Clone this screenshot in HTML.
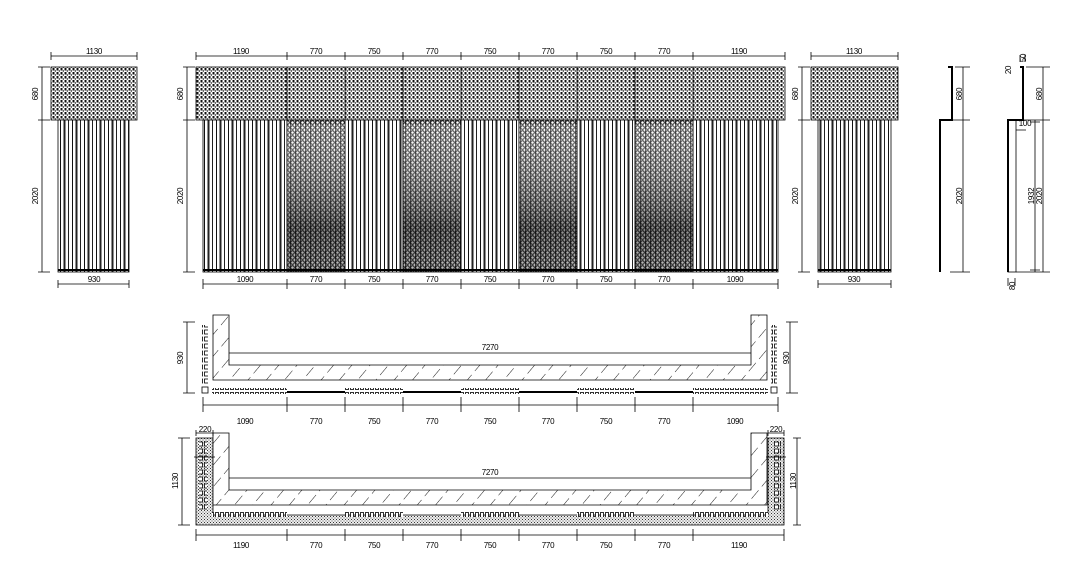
<!DOCTYPE html>
<html><head><meta charset="utf-8"><style>
html,body{margin:0;padding:0;background:#fff;}
svg{display:block}
text{font-family:"Liberation Sans",sans-serif;font-size:8px;fill:#000;letter-spacing:-0.3px}
</style></head><body>
<svg width="1080" height="568" viewBox="0 0 1080 568" xmlns="http://www.w3.org/2000/svg">
<defs>
<pattern id="dots" width="4" height="4" patternUnits="userSpaceOnUse">
<rect width="4" height="4" fill="#fff"/><rect x="0.5" y="0" width="2" height="2.5" fill="#111"/><rect x="2.8" y="2" width="1" height="2" fill="#444"/>
</pattern>
<pattern id="vl" width="12" height="10" patternUnits="userSpaceOnUse">
<rect width="12" height="10" fill="#fff"/><rect x="0" width="1" height="10" fill="#111"/><rect x="3.5" width="2" height="10" fill="#222"/><rect x="8" width="1" height="10" fill="#222"/>
</pattern>
<pattern id="dense" width="5" height="5" patternUnits="userSpaceOnUse">
<rect width="5" height="5" fill="#fff"/><circle cx="2.5" cy="2.5" r="1.8" fill="none" stroke="#111" stroke-width="1"/><rect x="0" width="0.8" height="5" fill="#222"/>
</pattern>
<linearGradient id="fade" x1="0" y1="0" x2="0" y2="1">
<stop offset="0" stop-color="#fff" stop-opacity="0.15"/><stop offset="0.7" stop-color="#000" stop-opacity="0.45"/><stop offset="1" stop-color="#000" stop-opacity="0.25"/>
</linearGradient>
<pattern id="hatch" width="14" height="16" patternUnits="userSpaceOnUse" patternTransform="rotate(40)">
<rect width="14" height="16" fill="#fff"/><line x1="0" y1="0" x2="0" y2="11" stroke="#000" stroke-width="0.9"/>
</pattern>
<pattern id="stip" width="3" height="3" patternUnits="userSpaceOnUse">
<rect width="3" height="3" fill="#eee"/><rect x="0" y="0" width="1" height="1" fill="#333"/><rect x="1.5" y="1.5" width="1" height="1" fill="#555"/>
</pattern>
<pattern id="sqv" width="6" height="7" patternUnits="userSpaceOnUse">
<rect x="0.5" y="1" width="4" height="4" fill="#fff" stroke="#000" stroke-width="0.8"/>
</pattern>
<pattern id="sqh" width="5" height="8" patternUnits="userSpaceOnUse">
<rect x="0.5" y="0.5" width="3" height="5" fill="#fff" stroke="#000" stroke-width="0.8"/>
</pattern>
</defs>

<g stroke="#000" stroke-width="0.8" fill="none">
<!-- LEFT ELEVATION -->
<rect x="51" y="67" width="86" height="53" fill="url(#dots)"/>
<rect x="58" y="120" width="71" height="152" fill="url(#vl)"/>
<line x1="58" y1="270" x2="129" y2="270" stroke-width="2"/>
<path d="M51 56H137M51 52V60M137 52V60M42 67V272M38 67H50M38 120H50M38 272H50M58 284H129M58 280V288M129 280V288"/>

<!-- MAIN ELEVATION -->
<rect x="196" y="67" width="589" height="53" fill="url(#dots)"/>
<path d="M287 67V120M345 67V120M403 67V120M461 67V120M519 67V120M577 67V120M635 67V120M693 67V120"/>
<rect x="203" y="120" width="84" height="152" fill="url(#vl)"/>
<rect x="345" y="120" width="58" height="152" fill="url(#vl)"/>
<rect x="461" y="120" width="58" height="152" fill="url(#vl)"/>
<rect x="577" y="120" width="58" height="152" fill="url(#vl)"/>
<rect x="693" y="120" width="85" height="152" fill="url(#vl)"/>
<rect x="287" y="120" width="58" height="152" fill="url(#dense)"/>
<rect x="403" y="120" width="58" height="152" fill="url(#dense)"/>
<rect x="519" y="120" width="58" height="152" fill="url(#dense)"/>
<rect x="635" y="120" width="58" height="152" fill="url(#dense)"/>
<g stroke="none" fill="url(#fade)">
<rect x="287" y="125" width="58" height="147"/><rect x="403" y="125" width="58" height="147"/><rect x="519" y="125" width="58" height="147"/><rect x="635" y="125" width="58" height="147"/>
</g>
<line x1="203" y1="270" x2="778" y2="270" stroke-width="2"/>
<path d="M196 56H785M196 52V60M287 52V60M345 52V60M403 52V60M461 52V60M519 52V60M577 52V60M635 52V60M693 52V60M785 52V60"/>
<path d="M187 67V272M183 67H195M183 120H195M183 272H195"/>
<path d="M203 284H778M203 279V289M287 279V289M345 279V289M403 279V289M461 279V289M519 279V289M577 279V289M635 279V289M693 279V289M778 279V289"/>

<!-- RIGHT ELEVATION -->
<rect x="811" y="67" width="87" height="53" fill="url(#dots)"/>
<rect x="818" y="120" width="73" height="152" fill="url(#vl)"/>
<line x1="818" y1="270" x2="891" y2="270" stroke-width="2"/>
<path d="M811 56H898M811 52V60M898 52V60M802 67V272M798 67H810M798 120H810M798 272H810M818 284H891M818 280V288M891 280V288"/>

<!-- SECTIONS -->
<path d="M948 67H952V120H940V272" stroke-width="2"/>
<path d="M955 67H970M950 120H970M950 272H970M963 67V272"/>
<path d="M1020 67H1023V120H1008V272" stroke-width="2"/>
<rect x="1008" y="120" width="8" height="152"/>
<path d="M1026 67H1050M1020 120H1050M1016 272H1050M1043 67V272M1035 120V272M1030 122H1040M1030 270H1040M1020 55V62M1025 55V62M1008 278V286M1015 278V286M1016 130H1026"/>

<!-- PLAN 1 -->
<path d="M213 315H229V365H751V315H767V380H213Z" fill="url(#hatch)"/>
<line x1="229" y1="353" x2="751" y2="353"/>
<rect x="202" y="325" width="6" height="60" fill="url(#sqv)" stroke="none"/>
<rect x="771" y="325" width="6" height="60" fill="url(#sqv)" stroke="none"/>
<rect x="202" y="387" width="6" height="6"/><rect x="771" y="387" width="6" height="6"/>
<rect x="212" y="388" width="75" height="6" fill="url(#sqh)" stroke="none"/>
<rect x="345" y="388" width="58" height="6" fill="url(#sqh)" stroke="none"/>
<rect x="461" y="388" width="58" height="6" fill="url(#sqh)" stroke="none"/>
<rect x="577" y="388" width="58" height="6" fill="url(#sqh)" stroke="none"/>
<rect x="693" y="388" width="75" height="6" fill="url(#sqh)" stroke="none"/>
<path d="M287 392H345M403 392H461M519 392H577M635 392H693" stroke-width="2"/>
<path d="M187 322V393M183 322H195M183 393H195M790 322V393M786 322H798M786 393H798"/>
<path d="M203 405H778M203 397V412M287 397V412M345 397V412M403 397V412M461 397V412M519 397V412M577 397V412M635 397V412M693 397V412M778 397V412"/>

<!-- PLAN 2 -->
<path d="M196 438H213V515H768V438H784V525H196Z" fill="url(#stip)"/>
<path d="M213 433H229V490H751V433H767V505H213Z" fill="url(#hatch)"/>
<line x1="229" y1="478" x2="751" y2="478"/>
<rect x="199" y="440" width="8" height="70" fill="url(#sqv)" stroke="none"/>
<rect x="773" y="440" width="8" height="70" fill="url(#sqv)" stroke="none"/>
<rect x="212" y="511" width="75" height="6" fill="url(#sqh)" stroke="none"/>
<rect x="345" y="511" width="58" height="6" fill="url(#sqh)" stroke="none"/>
<rect x="461" y="511" width="58" height="6" fill="url(#sqh)" stroke="none"/>
<rect x="577" y="511" width="58" height="6" fill="url(#sqh)" stroke="none"/>
<rect x="693" y="511" width="75" height="6" fill="url(#sqh)" stroke="none"/>
<path d="M196 433H213M196 430V436M213 430V436M768 433H784M768 430V436M784 430V436M194 457H215M766 457H786"/>
<path d="M182 438V525M178 438H190M178 525H190M797 438V525M793 438H801M793 525H801"/>
<path d="M196 535H784M196 529V541M287 529V541M345 529V541M403 529V541M461 529V541M519 529V541M577 529V541M635 529V541M693 529V541M784 529V541"/>
</g>

<!-- LABELS -->
<g text-anchor="middle">
<text x="94" y="54">1130</text><text x="94" y="282">930</text>
<text x="241" y="54">1190</text><text x="316" y="54">770</text><text x="374" y="54">750</text><text x="432" y="54">770</text><text x="490" y="54">750</text><text x="548" y="54">770</text><text x="606" y="54">750</text><text x="664" y="54">770</text><text x="739" y="54">1190</text>
<text x="245" y="282">1090</text><text x="316" y="282">770</text><text x="374" y="282">750</text><text x="432" y="282">770</text><text x="490" y="282">750</text><text x="548" y="282">770</text><text x="606" y="282">750</text><text x="664" y="282">770</text><text x="735" y="282">1090</text>
<text x="854" y="54">1130</text><text x="854" y="282">930</text>
<text x="490" y="350">7270</text><text x="490" y="475">7270</text>
<text x="245" y="424">1090</text><text x="316" y="424">770</text><text x="374" y="424">750</text><text x="432" y="424">770</text><text x="490" y="424">750</text><text x="548" y="424">770</text><text x="606" y="424">750</text><text x="664" y="424">770</text><text x="735" y="424">1090</text>
<text x="241" y="548">1190</text><text x="316" y="548">770</text><text x="374" y="548">750</text><text x="432" y="548">770</text><text x="490" y="548">750</text><text x="548" y="548">770</text><text x="606" y="548">750</text><text x="664" y="548">770</text><text x="739" y="548">1190</text>
<text x="205" y="432">220</text><text x="776" y="432">220</text>
<text x="1025" y="126" font-size="7">100</text>
</g>
<g text-anchor="middle">
<text transform="translate(38,94) rotate(-90)">680</text>
<text transform="translate(38,196) rotate(-90)">2020</text>
<text transform="translate(183,94) rotate(-90)">680</text>
<text transform="translate(183,196) rotate(-90)">2020</text>
<text transform="translate(798,94) rotate(-90)">680</text>
<text transform="translate(798,196) rotate(-90)">2020</text>
<text transform="translate(962,94) rotate(-90)">680</text>
<text transform="translate(962,196) rotate(-90)">2020</text>
<text transform="translate(1042,94) rotate(-90)">680</text>
<text transform="translate(1042,196) rotate(-90)">2020</text>
<text transform="translate(1034,196) rotate(-90)">1932</text>
<text transform="translate(1026,58) rotate(-90)" font-size="7">50</text>
<text transform="translate(1011,70) rotate(-90)" font-size="7">20</text>
<text transform="translate(1015,286) rotate(-90)" font-size="7">80</text>
<text transform="translate(183,358) rotate(-90)">930</text>
<text transform="translate(789,358) rotate(-90)">930</text>
<text transform="translate(178,481) rotate(-90)">1130</text>
<text transform="translate(796,481) rotate(-90)">1130</text>
</g>
</svg>
</body></html>
